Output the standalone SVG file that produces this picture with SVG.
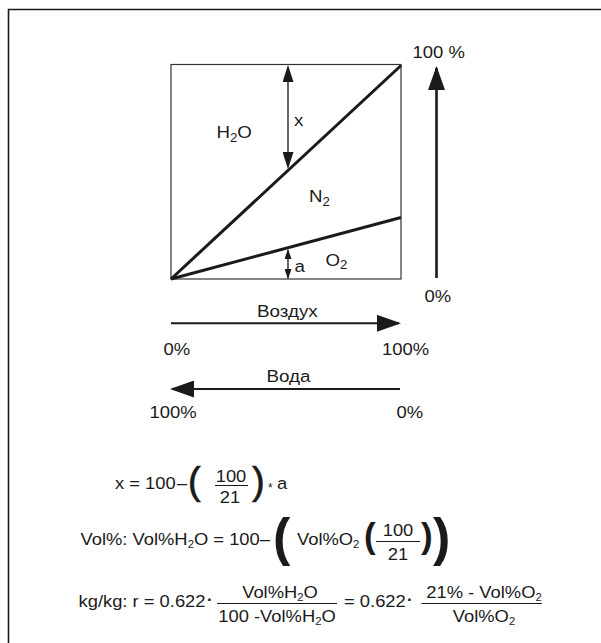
<svg xmlns="http://www.w3.org/2000/svg" width="601" height="643" viewBox="0 0 601 643">
<style>
text{font-family:"Liberation Sans",Arial,Helvetica,sans-serif;fill:#1a1a1a}
.lb{font-size:16.5px}
.bl{font-size:17px}
.fm{font-size:17px}
.sb{font-size:12px}
.fs{font-size:10.5px}
.pr{font-weight:bold}
.pm{stroke:#1a1a1a;stroke-width:0.7}
.thin{stroke:#1a1a1a;stroke-width:1.3;fill:none}
.ax{stroke:#1a1a1a;stroke-width:2;fill:none}
.fb{stroke:#1a1a1a;stroke-width:1;fill:none}
</style>
<defs>
<marker id="big" viewBox="0 0 24 17" refX="22" refY="8.5" markerWidth="24" markerHeight="17" markerUnits="userSpaceOnUse" orient="auto-start-reverse"><path d="M0,0 L24,8.5 L0,17 z" fill="#1a1a1a"/></marker>
<marker id="mid" viewBox="0 0 17 11" refX="15" refY="5.5" markerWidth="17" markerHeight="11" markerUnits="userSpaceOnUse" orient="auto-start-reverse"><path d="M0,0 L17,5.5 L0,11 z" fill="#1a1a1a"/></marker>
<marker id="sm" viewBox="0 0 10 7" refX="9" refY="3.5" markerWidth="10" markerHeight="7" markerUnits="userSpaceOnUse" orient="auto-start-reverse"><path d="M0,0 L10,3.5 L0,7 z" fill="#1a1a1a"/></marker>
</defs>
<rect width="601" height="643" fill="#ffffff"/>
<path id="frame" d="M8.5 643 V9.5 H601" fill="none" stroke="#1a1a1a" stroke-width="1.6"/>

<g id="chart">
<rect x="171" y="64.5" width="230" height="214.5" fill="none" stroke="#333" stroke-width="1.2"/>
<path d="M171 279 L401 65.5" stroke="#1a1a1a" stroke-width="3" fill="none"/>
<path d="M171 279 L401 217.5" stroke="#1a1a1a" stroke-width="3" fill="none"/>
</g>

<g id="connectors">
<path class="thin" d="M288 67 V167" marker-start="url(#mid)" marker-end="url(#mid)"/>
<path class="thin" d="M288 250 V278" marker-start="url(#sm)" marker-end="url(#sm)"/>
<path d="M436.5 278 V68" stroke="#1a1a1a" stroke-width="2.6" fill="none" marker-end="url(#big)"/>
<path class="ax" d="M171 323.3 H399" marker-end="url(#big)"/>
<path class="ax" d="M400 389 H172" marker-end="url(#big)"/>
</g>

<g id="label-x"><text class="bl" transform="translate(294 126) scale(1.1 1)">x</text></g>
<g id="label-h2o"><text class="bl" transform="translate(216.5 138) scale(1.1 1)">H<tspan class="sb" dy="4">2</tspan><tspan dy="-4">O</tspan></text></g>
<g id="label-n2"><text class="bl" transform="translate(309 202) scale(1.1 1)">N<tspan class="sb" dy="4">2</tspan></text></g>
<g id="label-o2"><text class="bl" transform="translate(325.5 266) scale(1.1 1)">O<tspan class="sb" dy="3">2</tspan></text></g>
<g id="label-a"><text class="bl" transform="translate(294.5 272) scale(1.1 1)">a</text></g>

<g id="axis-vertical">
<text class="lb" transform="translate(412.5 58) scale(1.12 1)">100 %</text>
<text class="lb" transform="translate(424.5 302) scale(1.12 1)">0%</text>
</g>
<g id="axis-air">
<text class="lb" transform="translate(257 317) scale(1.14 1)">Воздух</text>
<text class="lb" transform="translate(163.5 355) scale(1.12 1)">0%</text>
<text class="lb" transform="translate(382 355) scale(1.12 1)">100%</text>
</g>
<g id="axis-water">
<text class="lb" transform="translate(266.5 382) scale(1.14 1)">Вода</text>
<text class="lb" transform="translate(149.5 418) scale(1.12 1)">100%</text>
<text class="lb" transform="translate(396.5 418) scale(1.12 1)">0%</text>
</g>

<g id="formula-1">
<text class="fm" transform="translate(115 489) scale(1.08 1)">x = 100</text>
<text class="fm" transform="translate(177 489) scale(1.08 1)">–</text>
<text class="pm" font-size="38" transform="translate(188 494)">(</text>
<text class="fm" text-anchor="middle" transform="translate(231 482) scale(1.08 1)">100</text>
<line class="fb" x1="215" y1="485.5" x2="248" y2="485.5"/>
<text class="fm" text-anchor="middle" transform="translate(230 503) scale(1.08 1)">21</text>
<text class="pm" font-size="38" transform="translate(252 494)">)</text>
<text font-size="12" transform="translate(268 492)">*</text>
<text class="fm" transform="translate(277 489) scale(1.08 1)">a</text>
</g>

<g id="formula-2">
<text class="fm" transform="translate(80.5 545) scale(1.08 1)">Vol%: Vol%H<tspan class="fs" dy="3">2</tspan><tspan dy="-3">O = 100–</tspan></text>
<text class="pr" font-size="52" transform="translate(273 555)">(</text>
<text class="fm" transform="translate(297 545) scale(1.08 1)">Vol%O<tspan class="fs" dy="3">2</tspan></text>
<text class="pr" font-size="35" transform="translate(364 548)">(</text>
<text class="fm" text-anchor="middle" transform="translate(398 536) scale(1.08 1)">100</text>
<line class="fb" x1="376" y1="541.5" x2="420" y2="541.5"/>
<text class="fm" text-anchor="middle" transform="translate(398 560) scale(1.08 1)">21</text>
<text class="pr" font-size="35" transform="translate(421 548)">)</text>
<text class="pr" font-size="52" transform="translate(433 555)">)</text>
</g>

<g id="formula-3">
<text class="fm" transform="translate(78.5 607) scale(1.08 1)">kg/kg: r = 0.622</text>
<text class="fm pr" transform="translate(207 605)">·</text>
<text class="fm" text-anchor="middle" transform="translate(280 598) scale(1.08 1)">Vol%H<tspan class="fs" dy="3">2</tspan><tspan dy="-3">O</tspan></text>
<line class="fb" x1="217" y1="603.5" x2="337" y2="603.5"/>
<text class="fm" text-anchor="middle" transform="translate(277 622) scale(1.08 1)">100 -Vol%H<tspan class="fs" dy="3">2</tspan><tspan dy="-3">O</tspan></text>
<text class="fm" transform="translate(344 607) scale(1.08 1)">= 0.622</text>
<text class="fm pr" transform="translate(407 605)">·</text>
<text class="fm" text-anchor="middle" transform="translate(484 598) scale(1.08 1)">21% - Vol%O<tspan class="fs" dy="3">2</tspan></text>
<line class="fb" x1="421.5" y1="603.5" x2="542" y2="603.5"/>
<text class="fm" text-anchor="middle" transform="translate(484 622) scale(1.08 1)">Vol%O<tspan class="fs" dy="3">2</tspan></text>
</g>
</svg>
